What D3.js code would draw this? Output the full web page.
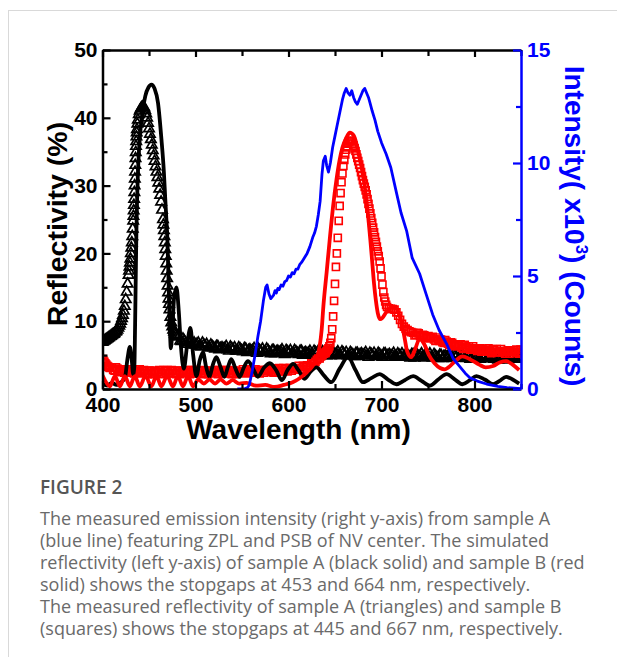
<!DOCTYPE html>
<html><head><meta charset="utf-8">
<script src="https://cdn.jsdelivr.net/npm/d3@7"></script>
<style>
html,body{margin:0;padding:0;background:#fff;}
svg{display:block;}
</style></head>
<body>
<svg id="chart" width="617" height="657"></svg>
<script>
// ---------------- DATA ----------------
const xTicks = [400, 500, 600, 700, 800];
const xMinorTicks = [450, 550, 650, 750, 850];
const yLeftTicks = [0, 10, 20, 30, 40, 50];
const yLeftMinor = [5, 15, 25, 35, 45];
const yRightTicks = [0, 5, 10, 15];
const yRightMinor = [2.5, 7.5, 12.5];

// measured reflectivity, sample A (triangles) [nm, %]
const measuredA = [[400,6.9],[401,7.0],[402,7.1],[403,7.2],[404,7.3],[405,7.4],[406,7.5],[407,7.6],[408,7.7],[409,7.8],[410,7.9],[411,8.0],[412,8.1],[413,8.2],[414,8.4],[415,8.5],[416,8.7],[417,9.0],[418,9.3],[419,9.6],[420,10.0],[421,10.4],[422,10.9],[423,11.5],[424,12.2],[425,13.2],[426,14.3],[427,15.5],[428,16.8],[428.5,17.4],[429,18.0],[429.5,18.6],[430,19.2],[430.5,20.0],[431,20.8],[431.5,21.6],[432,22.5],[432.5,23.6],[433,24.8],[433.25,25.5],[433.5,26.3],[433.75,27.1],[434,28.0],[434.25,29.0],[434.5,30.0],[434.75,31.0],[435,32.0],[435.25,33.0],[435.5,34.0],[435.75,34.9],[436,35.8],[436.25,36.5],[436.5,37.2],[436.75,37.8],[437,38.3],[437.5,39.1],[438,39.7],[439,40.5],[440,41.0],[441,41.3],[442,41.5],[443,41.6],[444,41.6],[445,41.5],[446,41.1],[447,40.6],[448,40.0],[449,39.2],[450,38.4],[451,37.6],[452,36.8],[453,36.0],[454,35.2],[455,34.4],[456,33.6],[457,32.8],[458,32.0],[459,31.2],[460,30.4],[461,29.5],[462,28.6],[463,27.6],[464,26.4],[465,25.0],[465.5,24.2],[466,23.4],[466.5,22.5],[467,21.6],[467.5,20.6],[468,19.6],[468.5,18.5],[469,17.4],[469.5,16.3],[470,15.2],[470.5,14.2],[471,13.3],[471.5,12.5],[472,11.7],[473,10.6],[474,9.8],[475,9.2],[476,8.7],[477,8.4],[478,8.1],[479,7.9],[480,7.7],[482,7.7],[485,7.0],[488,7.1],[491,6.6],[494,7.0],[497,6.7],[500,6.5],[503,6.8],[506,6.2],[509,6.5],[512,6.6],[515,6.1],[518,6.3],[521,5.9],[524,6.3],[527,6.0],[530,5.9],[533,6.3],[536,5.6],[539,6.0],[542,6.1],[545,5.6],[548,5.9],[551,5.5],[554,5.9],[557,5.7],[560,5.6],[563,6.0],[566,5.3],[569,5.7],[572,5.9],[575,5.4],[578,5.7],[581,5.2],[584,5.7],[587,5.5],[590,5.4],[593,5.8],[596,5.1],[599,5.5],[602,5.7],[605,5.2],[608,5.5],[611,5.1],[614,5.6],[617,5.3],[620,5.2],[623,5.6],[626,5.0],[629,5.4],[632,5.6],[635,5.0],[638,5.3],[641,4.9],[644,5.4],[647,5.2],[650,5.1],[653,5.5],[656,4.9],[659,5.3],[662,5.4],[665,4.9],[668,5.2],[671,4.8],[674,5.3],[677,5.1],[680,5.0],[683,5.4],[686,4.7],[689,5.1],[692,5.3],[695,4.8],[698,5.1],[701,4.7],[704,5.2],[707,5.0],[710,4.9],[713,5.3],[716,4.7],[719,5.0],[722,5.2],[725,4.7],[728,5.0],[731,4.6],[734,5.1],[737,4.9],[740,4.8],[743,5.2],[746,4.6],[749,5.0],[752,5.2],[755,4.6],[758,4.9],[761,4.5],[764,5.0],[767,4.8],[770,4.7],[773,5.1],[776,4.5],[779,4.9],[782,5.1],[785,4.6],[788,4.9],[791,4.5],[794,4.9],[797,4.7],[800,4.6],[803,5.0],[806,4.4],[809,4.8],[812,5.0],[815,4.5],[818,4.8],[821,4.4],[824,4.9],[827,4.7],[830,4.6],[833,4.9],[836,4.3],[839,4.7],[842,4.9],[845,4.4],[848,4.7],
[483.5,7.1],[486.5,7.4],[489.5,6.8],[492.5,7.0],[495.5,6.5],[498.5,6.8],[501.5,6.6],[504.5,6.3],[507.5,6.8],[510.5,6.3],[513.5,6.1],[516.5,6.5],[519.5,6.1],[522.5,6.3],[525.5,5.8],[528.5,6.1],[531.5,6.0],[534.5,5.8],[537.5,6.2],[540.5,5.8],[543.5,5.6],[546.5,6.1],[549.5,5.7],[552.5,6.0],[555.5,5.4],[558.5,5.8],[561.5,5.7],[564.5,5.5],[567.5,5.9],[570.5,5.5],[573.5,5.4],[576.5,5.9],[579.5,5.4],[582.5,5.7],[585.5,5.2],[588.5,5.6],[591.5,5.5],[594.5,5.3],[597.5,5.7],[600.5,5.3],[603.5,5.2],[606.5,5.7],[609.5,5.3],[612.5,5.6],[615.5,5.0],[618.5,5.4],[621.5,5.3],[624.5,5.1],[627.5,5.6],[630.5,5.2],[633.5,5.1],[636.5,5.5],[639.5,5.1],[642.5,5.4],[645.5,4.9],[648.5,5.3],[651.5,5.2],[654.5,5.0],[657.5,5.5],[660.5,5.0],[663.5,4.9],[666.5,5.4],[669.5,5.0],[672.5,5.3],[675.5,4.8],[678.5,5.2],[681.5,5.1],[684.5,4.9],[687.5,5.3],[690.5,4.9],[693.5,4.8],[696.5,5.3],[699.5,4.9],[702.5,5.2],[705.5,4.7],[708.5,5.1],[711.5,5.0],[714.5,4.8],[717.5,5.2],[720.5,4.8],[723.5,4.7],[726.5,5.2],[729.5,4.8],[732.5,5.1],[735.5,4.6],[738.5,5.0],[741.5,4.9],[744.5,4.7],[747.5,5.2],[750.5,4.8],[753.5,4.7],[756.5,5.1],[759.5,4.7],[762.5,5.0],[765.5,4.5],[768.5,4.9],[771.5,4.8],[774.5,4.6],[777.5,5.1],[780.5,4.7],[783.5,4.6],[786.5,5.0],[789.5,4.6],[792.5,4.9],[795.5,4.4],[798.5,4.8],[801.5,4.7],[804.5,4.5],[807.5,5.0],[810.5,4.6],[813.5,4.5],[816.5,4.9],[819.5,4.5],[822.5,4.8],[825.5,4.3],[828.5,4.7],[831.5,4.6],[834.5,4.4],[837.5,4.9],[840.5,4.5],[843.5,4.4],[846.5,4.8]];

// measured reflectivity, sample B (squares) [nm, %]
const measuredB = [[400,4.4],[401,4.2],[402,4.0],[403,3.8],[404,3.6],[405,3.4],[406,3.3],[407,3.2],[408,3.1],[410,3.2],[413,2.7],[416,3.0],[419,2.5],[422,2.9],[425,2.7],[428,2.5],[431,2.9],[434,2.3],[437,2.7],[440,2.9],[443,2.4],[446,2.6],[449,2.2],[452,2.7],[455,2.5],[458,2.4],[461,2.8],[464,2.2],[467,2.6],[470,2.8],[473,2.3],[476,2.6],[479,2.2],[482,2.7],[485,2.5],[488,2.4],[491,2.8],[494,2.2],[497,2.6],[500,2.8],[503,2.3],[506,2.6],[509,2.2],[512,2.7],[515,2.5],[518,2.4],[521,2.8],[524,2.2],[527,2.6],[530,2.8],[533,2.3],[536,2.6],[539,2.2],[542,2.7],[545,2.5],[548,2.4],[551,2.9],[554,2.3],[557,2.7],[560,2.9],[563,2.4],[566,2.7],[569,2.3],[572,2.8],[575,2.7],[578,2.6],[581,3.0],[584,2.4],[587,2.8],[590,3.1],[593,2.6],[596,2.9],[599,2.6],[602,3.1],[605,3.0],[608,2.9],[611,3.4],[614,2.9],[617,3.3],[620,3.5],[623,3.4],[626,3.8],[629,4.0],[632,4.5],[635,4.8],[638,5.2],[640,5.4],[641,5.6],[642,5.8],[643,6.0],[644,6.3],[645,6.8],[646,7.5],[647,8.8],[648,10.7],[649,13.0],[650,15.5],[651,18.0],[652,20.0],[653,22.3],[654,24.8],[655,27.0],[656,28.9],[657,30.5],[658,31.8],[659,32.9],[660,33.8],[661,34.6],[662,35.3],[663,35.8],[664,36.2],[665,36.5],[666,36.6],[667,36.6],[668,36.5],[669,36.2],[670,35.9],[671,35.5],[672,35.1],[673,34.6],[674,34.1],[675,33.6],[676,33.1],[677,32.6],[678,32.0],[679,31.4],[680,30.8],[681,30.3],[682,29.8],[683,29.3],[684,28.7],[685,28.0],[686,27.3],[687,26.6],[688,25.9],[689,25.2],[690,24.5],[691,23.8],[692,23.1],[693,22.4],[694,21.7],[695,21.0],[696,20.3],[697,19.6],[698,18.8],[699,17.8],[700,16.6],[701,15.4],[702,14.3],[703,13.5],[704,12.9],[705,12.4],[706,12.1],[708,11.9],[710,11.8],[712,11.8],[714,11.7],[716,11.3],[718,10.8],[720,10.2],[722,9.6],[724,9.2],[726,8.9],[728,8.7],[730,8.5],[732,8.4],[734,8.3],[737,8.0],[740,8.2],[743,7.7],[746,7.9],[749,7.7],[752,7.5],[755,7.7],[758,7.1],[761,7.3],[764,7.3],[767,6.8],[770,7.0],[773,6.5],[776,6.8],[779,6.5],[782,6.3],[785,6.6],[788,5.9],[791,6.2],[794,6.3],[797,5.8],[800,6.0],[803,5.6],[806,6.0],[809,5.8],[812,5.6],[815,6.0],[818,5.3],[821,5.7],[824,5.9],[827,5.4],[830,5.6],[833,5.2],[836,5.7],[839,5.5],[842,5.4],[845,5.8],[848,5.2],[850,5.5],
[411.5,2.8],[414.5,3.2],[417.5,2.7],[420.5,2.9],[423.5,2.4],[426.5,2.7],[429.5,2.6],[432.5,2.4],[435.5,2.9],[438.5,2.5],[441.5,2.3],[444.5,2.8],[447.5,2.4],[450.5,2.7],[453.5,2.2],[456.5,2.6],[459.5,2.5],[462.5,2.3],[465.5,2.8],[468.5,2.4],[471.5,2.3],[474.5,2.8],[477.5,2.4],[480.5,2.7],[483.5,2.2],[486.5,2.6],[489.5,2.5],[492.5,2.3],[495.5,2.8],[498.5,2.4],[501.5,2.3],[504.5,2.8],[507.5,2.4],[510.5,2.7],[513.5,2.2],[516.5,2.6],[519.5,2.5],[522.5,2.3],[525.5,2.8],[528.5,2.4],[531.5,2.3],[534.5,2.8],[537.5,2.4],[540.5,2.7],[543.5,2.2],[546.5,2.6],[549.5,2.5],[552.5,2.4],[555.5,2.9],[558.5,2.5],[561.5,2.4],[564.5,2.9],[567.5,2.5],[570.5,2.8],[573.5,2.4],[576.5,2.8],[579.5,2.7],[582.5,2.5],[585.5,3.0],[588.5,2.7],[591.5,2.6],[594.5,3.1],[597.5,2.7],[600.5,3.1],[603.5,2.7],[606.5,3.1],[609.5,3.0],[612.5,2.9],[615.5,3.4],[618.5,3.2],[621.5,3.3],[624.5,3.8],[627.5,3.8],[630.5,4.3],[633.5,4.5],[636.5,5.0],[639.5,5.3],
[735.5,7.9],[738.5,8.3],[741.5,7.8],[744.5,8.0],[747.5,7.5],[750.5,7.8],[753.5,7.6],[756.5,7.3],[759.5,7.6],[762.5,7.1],[765.5,6.9],[768.5,7.2],[771.5,6.7],[774.5,6.9],[777.5,6.3],[780.5,6.6],[783.5,6.4],[786.5,6.1],[789.5,6.5],[792.5,6.0],[795.5,5.8],[798.5,6.3],[801.5,5.8],[804.5,6.0],[807.5,5.5],[810.5,5.8],[813.5,5.7],[816.5,5.5],[819.5,5.9],[822.5,5.5],[825.5,5.4],[828.5,5.9],[831.5,5.4],[834.5,5.6],[837.5,5.2],[840.5,5.5],[843.5,5.5],[846.5,5.3],[849.5,5.8]];

// simulated reflectivity, sample A (black solid) [nm, %]
const simulatedA = [[400,0.8],[405,0.5],[410,0.9],[415,0.6],[420,1.0],[424,1.6],[427,4.6],[429.4,6.2],[431.5,4.2],[433,2.2],[434.3,3.5],[435,9],[435.8,17],[436.5,23.5],[438,31.5],[440,36.8],[443,40.8],[446,43.2],[449.5,44.5],[452.6,44.9],[456,44.3],[459.7,42.2],[463.4,36.8],[466,32],[467.5,28],[468.7,25],[469.8,22],[471,16],[472.3,9.5],[473.5,6],[475,8.5],[477,13.5],[479.5,15],[482,11.5],[484.5,6],[487.5,3.0],[491,6.5],[494.5,9.0],[497.5,5],[501,1.9],[504.5,4.2],[508,5.4],[511.5,3.2],[515,1.8],[518.5,3.5],[522.4,4.7],[527,3.2],[531,1.8],[535,3.3],[538.5,4.4],[543,3],[547.5,1.8],[552,3.2],[556.4,4.1],[562,3],[567,1.8],[574,3.2],[580,3.8],[587,2.7],[593,1.3],[599,2.8],[605,3.7],[611,2.7],[617,1.5],[624,2.6],[630,3.2],[638,2.0],[646,1.0],[655,3.0],[664,4.7],[672,2.8],[680,1.0],[689,1.6],[698,2.2],[707,1.4],[716,0.7],[725,1.3],[734,1.9],[743,1.2],[752,0.5],[761,1.4],[770,2.2],[778,1.5],[787,0.7],[795,1.3],[802,1.9],[811,1.4],[820,0.7],[827,1.2],[834,1.8],[841,1.4],[848,0.8]];

// simulated reflectivity, sample B (red solid) [nm, %]
const simulatedB = [[400,2.0],[403,1.2],[408,0.4],[413.3,1.9],[418.7,0.4],[424,1.9],[429.4,0.4],[434.7,1.9],[440,0.4],[446.3,1.9],[452.6,0.4],[458,1.9],[463.3,0.4],[469.5,1.9],[475.8,0.4],[481,1.9],[486.5,0.4],[492,1.9],[497.3,0.4],[503,1.4],[509,0.8],[515,1.4],[521,0.8],[527,1.4],[533,0.8],[540,1.3],[547,0.8],[555,0.9],[565,0.5],[575,0.6],[585,0.3],[595,0.6],[604.5,1.0],[610,1.4],[615,1.9],[620,2.5],[626,3.4],[630,4.4],[633.5,6.3],[635.7,8.8],[637.5,12.2],[641,17.2],[644.3,22],[648,27],[651.6,30.9],[655,33.8],[658,35.6],[662,37.0],[666,37.8],[670,37.4],[673,36.2],[676,34.3],[679,32.4],[681.5,30.3],[684,27.6],[686,25],[688,22],[690,18.8],[692,15.5],[694,13],[696,11.2],[698.5,10.3],[701,10.5],[705,11.3],[710,12.0],[714,12.2],[718,11.3],[722,9.5],[725,7.4],[727.5,5.6],[732,4.7],[736,5.8],[741,7.4],[746,6.6],[751,5.0],[757,3.8],[763,3.1],[768,2.9],[772,3.2],[780,4.2],[787,4.8],[795,4.4],[805,3.6],[812,3.2],[820,3.4],[827,3.9],[834,4.1],[841,3.6],[848,2.8]];

// measured emission intensity, sample A (blue) [nm, x10^3 counts]
const emission = [[545,0.0],[553,0.02],[556,0.06],[558,0.2],[561,0.8],[564,1.5],[567,2.3],[570,3.0],[573,3.9],[575.5,4.5],[577,4.6],[579,4.2],[581,4.0],[584,4.15],[585.5,4.35],[587,4.25],[588.5,4.45],[590,4.4],[592,4.6],[594,4.55],[596,4.75],[598,4.8],[600,5.0],[602,4.95],[604,5.15],[606,5.1],[608,5.3],[610,5.3],[612,5.5],[614,5.6],[617,5.8],[620,6.0],[623,6.3],[626,6.7],[628,6.9],[630,7.2],[632,7.7],[634,8.3],[636,9.5],[637.5,10.1],[639.5,10.3],[641,9.9],[643,9.6],[645,10.0],[647.5,10.7],[650,11.2],[652,11.6],[655,12.2],[658,12.8],[660,13.1],[662,13.3],[664,13.1],[666,13.0],[668,13.2],[670,12.9],[672,12.7],[674,12.6],[676,12.8],[678,13.0],[680,13.2],[682,13.3],[684,13.1],[686,12.9],[688,12.6],[690,12.3],[693,11.9],[696,11.4],[700,10.9],[705,10.4],[710,9.8],[716,8.7],[721,7.8],[727,7.0],[733,5.8],[741,5.1],[748,4.2],[755,3.3],[762,2.6],[770,2.0],[777,1.35],[784,1.0],[790,0.7],[795,0.5],[803,0.35],[813,0.22],[825,0.12],[835,0.06],[850,0.02]];

const captionTitle = "FIGURE 2";
const captionLines = [
  "The measured emission intensity (right y-axis) from sample A",
  "(blue line) featuring ZPL and PSB of NV center. The simulated",
  "reflectivity (left y-axis) of sample A (black solid) and sample B (red",
  "solid) shows the stopgaps at 453 and 664 nm, respectively.",
  "The measured reflectivity of sample A (triangles) and sample B",
  "(squares) shows the stopgaps at 445 and 667 nm, respectively."
];

// ---------------- DRAW ----------------
const svg = d3.select('#chart');
const BLUE = '#0000ff', RED = '#ff0000', BLACK = '#000000';
const FONT = '"Liberation Sans", Arial, Helvetica, sans-serif';

// card border
svg.append('line').attr('x1',8).attr('y1',10.5).attr('x2',617).attr('y2',10.5).attr('stroke','#d9d9d9').attr('stroke-width',1);
svg.append('line').attr('x1',8.5).attr('y1',10).attr('x2',8.5).attr('y2',657).attr('stroke','#d9d9d9').attr('stroke-width',1);

const x = d3.scaleLinear().domain([400, 850]).range([102.5, 521]);
const yL = d3.scaleLinear().domain([0, 50]).range([389, 50]);
const yR = d3.scaleLinear().domain([0, 15]).range([389, 50]);

svg.append('defs').append('clipPath').attr('id','clip')
  .append('rect').attr('x',102.5).attr('y',40).attr('width',418.5).attr('height',350);

const plot = svg.append('g').attr('clip-path','url(#clip)');

// triangles
plot.append('g').selectAll('path').data(measuredA).join('path')
  .attr('transform', d => `translate(${x(d[0])},${yL(d[1])})`)
  .attr('d', d3.symbol().type(d3.symbolTriangle).size(46))
  .attr('fill','none').attr('stroke',BLACK).attr('stroke-width',1.7);

// squares
plot.append('g').selectAll('path').data(measuredB).join('path')
  .attr('transform', d => `translate(${x(d[0])},${yL(d[1])})`)
  .attr('d', d3.symbol().type(d3.symbolSquare).size(50))
  .attr('fill','none').attr('stroke',RED).attr('stroke-width',1.6);

const lineL = d3.line().x(d => x(d[0])).y(d => yL(d[1])).curve(d3.curveMonotoneX);
plot.append('path').datum(simulatedA).attr('d', lineL)
  .attr('fill','none').attr('stroke',BLACK).attr('stroke-width',3.8).attr('stroke-linejoin','round');
plot.append('path').datum(simulatedB).attr('d', lineL)
  .attr('fill','none').attr('stroke',RED).attr('stroke-width',3.8).attr('stroke-linejoin','round');

const lineR = d3.line().x(d => x(d[0])).y(d => yR(d[1]));
plot.append('path').datum(emission).attr('d', lineR)
  .attr('fill','none').attr('stroke',BLUE).attr('stroke-width',2.8).attr('stroke-linejoin','round');

// ---------------- AXES ----------------
function styleAxis(g, color) {
  g.selectAll('path.domain').attr('stroke', color).attr('stroke-width', 2.5);
  g.selectAll('.tick line').attr('stroke', color).attr('stroke-width', 2.2);
  g.selectAll('.tick text').attr('fill', color)
    .style('font-family', FONT).style('font-size', '21px').style('font-weight', '700');
}
// bottom
svg.append('g').attr('transform','translate(0,389)')
  .call(d3.axisBottom(x).tickValues(xTicks).tickSizeInner(-8).tickSizeOuter(0).tickPadding(8).tickFormat(d3.format('d')))
  .call(g => styleAxis(g, BLACK));
svg.append('g').attr('transform','translate(0,389)')
  .call(d3.axisBottom(x).tickValues(xMinorTicks).tickSize(-5).tickFormat(''))
  .call(g => { g.select('.domain').remove(); styleAxis(g, BLACK); });
// top
svg.append('g').attr('transform','translate(0,50)')
  .call(d3.axisTop(x).tickValues(xTicks).tickSizeInner(-7).tickSizeOuter(0).tickFormat(''))
  .call(g => styleAxis(g, BLACK));
svg.append('g').attr('transform','translate(0,50)')
  .call(d3.axisTop(x).tickValues(xMinorTicks).tickSize(-6).tickFormat(''))
  .call(g => { g.select('.domain').remove(); styleAxis(g, BLACK); });
// left
svg.append('g').attr('transform','translate(102.5,0)')
  .call(d3.axisLeft(yL).tickValues(yLeftTicks).tickSizeInner(-8).tickSizeOuter(0).tickPadding(5))
  .call(g => styleAxis(g, BLACK));
svg.append('g').attr('transform','translate(102.5,0)')
  .call(d3.axisLeft(yL).tickValues(yLeftMinor).tickSize(-5).tickFormat(''))
  .call(g => { g.select('.domain').remove(); styleAxis(g, BLACK); });
// right
svg.append('g').attr('transform','translate(521,0)')
  .call(d3.axisRight(yR).tickValues(yRightTicks).tickSizeInner(-8).tickSizeOuter(0).tickPadding(6))
  .call(g => styleAxis(g, BLUE));
svg.append('g').attr('transform','translate(521,0)')
  .call(d3.axisRight(yR).tickValues(yRightMinor).tickSize(-5).tickFormat(''))
  .call(g => { g.select('.domain').remove(); styleAxis(g, BLUE); });

// ---------------- TITLES ----------------
svg.append('text').attr('transform','translate(67,224) rotate(-90)')
  .attr('text-anchor','middle').attr('fill',BLACK)
  .style('font-family',FONT).style('font-size','28.5px').style('font-weight','700')
  .text('Reflectivity (%)');

svg.append('text').attr('x',298.5).attr('y',439)
  .attr('text-anchor','middle').attr('fill',BLACK)
  .style('font-family',FONT).style('font-size','28px').style('font-weight','700')
  .text('Wavelength (nm)');

const rt = svg.append('text').attr('transform','translate(565,226) rotate(90)')
  .attr('text-anchor','middle').attr('fill',BLUE)
  .style('font-family',FONT).style('font-size','28px').style('font-weight','700');
rt.append('tspan').text('Intensity( x10');
rt.append('tspan').attr('dy',-11).style('font-size','17px').text('3');
rt.append('tspan').attr('dy',11).text(') (Counts)');

// ---------------- CAPTION ----------------
svg.append('text').attr('x',40).attr('y',494).attr('fill','#555')
  .style('font-family','"Open Sans", "Noto Sans", sans-serif').style('font-size','19px').style('font-weight','600')
  .text(captionTitle);
svg.append('g').selectAll('text').data(captionLines).join('text')
  .attr('x',40).attr('y',(d,i) => 525 + i*22).attr('fill','#6a6a6a')
  .style('font-family','"Open Sans", "Noto Sans", sans-serif').style('font-size','18px').style('font-weight','400')
  .text(d => d);
</script>
</body></html>
